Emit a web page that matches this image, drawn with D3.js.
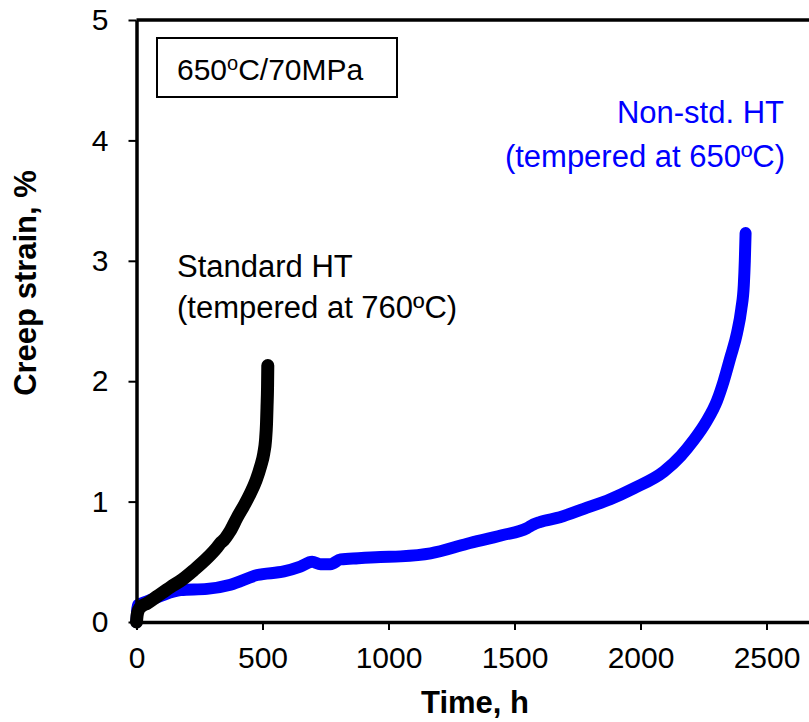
<!DOCTYPE html>
<html>
<head>
<meta charset="utf-8">
<script src="https://cdn.jsdelivr.net/npm/d3@7/dist/d3.min.js"></script>
<style>
  body { margin: 0; background: #fff; }
  text { font-family: Arial, "Liberation Sans", sans-serif; }
</style>
</head>
<body>
<svg id="chart" width="809" height="722"></svg>
<script>
// Standard HT (tempered at 760ºC)
const stdTime   = [0, 2, 8, 20, 42, 80, 135, 180, 227, 280, 320, 335, 346, 370, 400, 430, 452, 475, 492, 505, 512, 516, 518, 520, 521];
const stdStrain = [0, 0.05, 0.10, 0.13, 0.155, 0.21, 0.29, 0.35, 0.43, 0.53, 0.62, 0.66, 0.68, 0.75, 0.87, 0.98, 1.07, 1.18, 1.29, 1.40, 1.51, 1.65, 1.79, 1.95, 2.13];

// Non-std. HT (tempered at 650ºC)
const nonTime   = [0, 2, 5, 40, 100, 175, 280, 373, 479, 585, 650, 697, 730, 770, 810, 880, 968, 1048, 1167, 1312, 1450, 1550, 1575, 1600, 1680, 1775, 1880, 1973, 2093, 2160, 2211, 2260, 2304, 2330, 2357, 2383, 2400, 2410, 2414, 2417];
const nonStrain = [0, 0.08, 0.14, 0.17, 0.22, 0.265, 0.275, 0.31, 0.39, 0.42, 0.46, 0.50, 0.48, 0.48, 0.52, 0.53, 0.54, 0.545, 0.57, 0.65, 0.72, 0.78, 0.81, 0.83, 0.87, 0.94, 1.02, 1.11, 1.25, 1.38, 1.51, 1.66, 1.84, 2.0, 2.2, 2.4, 2.6, 2.8, 3.0, 3.23];

const xTicks = [0, 500, 1000, 1500, 2000, 2500];
const yTicks = [0, 1, 2, 3, 4, 5];

const svg = d3.select("#chart");
const plotLeft = 136.5, plotTop = 20, plotBottom = 622;

const x = d3.scaleLinear().domain([0, 3000]).range([plotLeft, plotLeft + 0.252 * 3000]);
const y = d3.scaleLinear().domain([0, 5]).range([plotBottom, plotTop]);

// curves
const line = d3.line().x(d => x(d[0])).y(d => y(d[1])).curve(d3.curveMonotoneX);

svg.append("path")
  .datum(nonTime.map((t, i) => [t, nonStrain[i]]))
  .attr("d", line)
  .attr("fill", "none")
  .attr("stroke", "#0000ff")
  .attr("stroke-width", 12)
  .attr("stroke-linecap", "round")
  .attr("stroke-linejoin", "round");

svg.append("path")
  .datum(stdTime.map((t, i) => [t, stdStrain[i]]))
  .attr("d", line)
  .attr("fill", "none")
  .attr("stroke", "#000")
  .attr("stroke-width", 13)
  .attr("stroke-linecap", "round")
  .attr("stroke-linejoin", "round");

// axes
const yAxis = svg.append("g")
  .attr("transform", `translate(${plotLeft},0)`)
  .call(d3.axisLeft(y).tickValues(yTicks).tickFormat(d3.format("d"))
    .tickSize(8).tickPadding(20).tickSizeOuter(0));

const xAxis = svg.append("g")
  .attr("transform", `translate(0,${plotBottom})`)
  .call(d3.axisBottom(x).tickValues(xTicks).tickFormat(d3.format("d"))
    .tickSize(8).tickPadding(17).tickSizeOuter(0));

[yAxis, xAxis].forEach(g => {
  g.select(".domain").attr("stroke-width", 3.5);
  g.selectAll(".tick line").attr("stroke-width", 2);
  g.selectAll(".tick text").attr("font-size", 30).attr("fill", "#000")
    .style("font-family", "Arial, 'Liberation Sans', sans-serif");
});

// top frame line
svg.append("line")
  .attr("x1", plotLeft).attr("x2", 809)
  .attr("y1", plotTop).attr("y2", plotTop)
  .attr("stroke", "#000").attr("stroke-width", 3.5);

// axis titles
svg.append("text")
  .attr("x", 475).attr("y", 713)
  .attr("text-anchor", "middle")
  .attr("font-size", 31).attr("font-weight", "bold")
  .text("Time, h");

svg.append("text")
  .attr("transform", "translate(36,283) rotate(-90)")
  .attr("text-anchor", "middle")
  .attr("font-size", 31).attr("font-weight", "bold")
  .text("Creep strain, %");

// condition box
svg.append("rect")
  .attr("x", 157).attr("y", 38).attr("width", 240).attr("height", 59)
  .attr("fill", "#fff").attr("stroke", "#000").attr("stroke-width", 2);

const cond = svg.append("text").attr("x", 177).attr("y", 80).attr("font-size", 30);
cond.append("tspan").text("650");
cond.append("tspan").attr("font-size", 20).attr("dy", -10).text("o");
cond.append("tspan").attr("dy", 10).text("C/70MPa");

// series labels
const stdLabel = svg.append("text").attr("font-size", 31).attr("fill", "#000");
stdLabel.append("tspan").attr("x", 177).attr("y", 277).text("Standard HT");
stdLabel.append("tspan").attr("x", 177).attr("y", 318).text("(tempered at 760ºC)");

const nonLabel = svg.append("text").attr("font-size", 31).attr("fill", "#0000ff").attr("text-anchor", "end");
nonLabel.append("tspan").attr("x", 784).attr("y", 123).text("Non-std. HT");
nonLabel.append("tspan").attr("x", 785).attr("y", 167).text("(tempered at 650ºC)");
</script>
</body>
</html>
